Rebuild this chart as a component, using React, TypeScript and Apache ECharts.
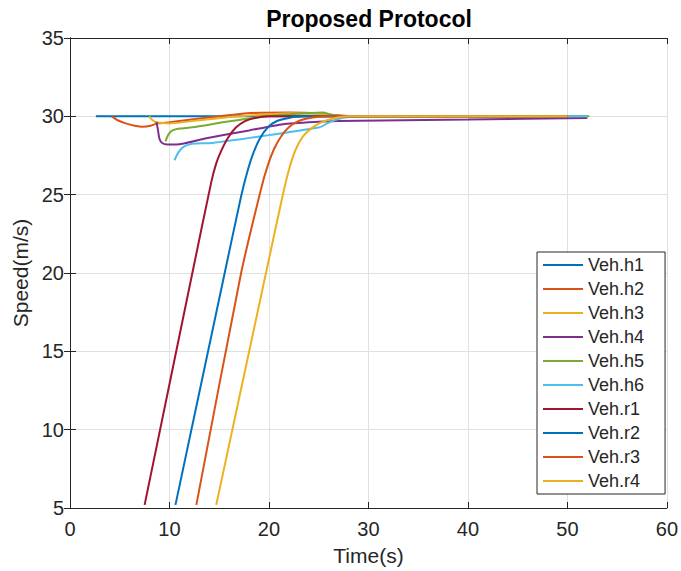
import React, { useEffect, useRef } from "react";
import * as echarts from "echarts";

const seriesNames = ["Veh.h1", "Veh.h2", "Veh.h3", "Veh.h4", "Veh.h5", "Veh.h6", "Veh.r1", "Veh.r2", "Veh.r3", "Veh.r4"];
const seriesColors = ["#0072BD", "#D95319", "#EDB120", "#7E2F8E", "#77AC30", "#4DBEEE", "#A2142F", "#0072BD", "#D95319", "#EDB120"];

const h1: number[][] = [[2.6, 30], [52, 30]];
const h2: number[][] = [[4.2, 30], [4.8, 29.75], [5.6, 29.55], [6.5, 29.4], [7.3, 29.33], [8.1, 29.4], [8.8, 29.55], [10, 29.62], [12, 29.78], [15, 30.0], [17.8, 30.2], [22, 30.25], [25, 30.2], [26.5, 30.08], [28, 30.02], [30, 30], [52, 30]];
const h3: number[][] = [[7.95, 30], [8.3, 29.75], [8.8, 29.6], [10, 29.55], [13, 29.75], [16, 29.95], [19, 30.1], [22, 30.2], [25, 30.15], [26.5, 30.06], [28, 30.02], [30, 30], [52, 30]];
const h4: number[][] = [[8.7, 29.65], [8.85, 29.1], [9.0, 28.55], [9.3, 28.28], [9.8, 28.2], [10.7, 28.2], [13.7, 28.6], [18, 29.1], [21.4, 29.5], [25, 29.65], [27, 29.7], [40, 29.8], [52, 29.9]];
const h5: number[][] = [[9.6, 28.4], [9.9, 28.85], [10.3, 29.1], [11, 29.22], [12.3, 29.3], [15.7, 29.65], [19, 29.95], [22.4, 30.15], [25.4, 30.25], [26.3, 30.1], [27.3, 30.02], [29, 30], [52.2, 30]];
const h6: number[][] = [[10.5, 27.2], [10.9, 27.7], [11.4, 28.05], [12.3, 28.25], [14.3, 28.3], [20, 28.8], [25.1, 29.3], [26, 29.6], [26.8, 29.8], [28, 29.95], [30, 30], [52, 30]];
const r1: number[][] = [[7.5, 5.2], [12.3, 20], [14.2, 25.8], [14.7, 27.0], [15.2, 27.8], [15.9, 28.65], [16.7, 29.3], [17.6, 29.7], [18.6, 29.9], [20, 30], [50, 30]];
const r2: number[][] = [[10.6, 5.2], [15.55, 20], [17.2, 24.9], [17.8, 26.4], [18.4, 27.6], [19.1, 28.6], [19.9, 29.3], [20.8, 29.7], [22, 29.9], [23.5, 30], [50, 30]];
const r3: number[][] = [[12.7, 5.2], [17.2, 20], [19.3, 25.6], [19.9, 26.9], [20.5, 27.9], [21.2, 28.7], [22, 29.3], [23, 29.7], [24.4, 29.92], [26, 30], [50, 30]];
const r4: number[][] = [[14.7, 5.2], [19.7, 20], [21.5, 25.3], [22.1, 26.8], [22.7, 27.9], [23.4, 28.7], [24.2, 29.2], [25.2, 29.6], [26.4, 29.85], [28, 30], [50, 30]];
const seriesData = [h1, h2, h3, h4, h5, h6, r1, r2, r3, r4];

const titleText = "Proposed Protocol";
const xName = "Time(s)";
const yName = "Speed(m/s)";
const xMin = 0, xMax = 60, xStep = 10;
const yMin = 5, yMax = 35, yStep = 5;

const FONT = "'Liberation Sans', Helvetica, Arial, sans-serif";
const INK = "#262626";

export default function App() {
  const ref = useRef<HTMLDivElement>(null);
  useEffect(() => {
    if (!ref.current) return;
    const chart = echarts.init(ref.current, undefined, { renderer: "svg" });
    const tickStyle = { show: true, inside: true, length: 6, lineStyle: { color: INK, width: 1 } };
    const lineStyleAxis = { show: true, lineStyle: { color: INK, width: 1 } };
    chart.setOption({
      animation: false,
      backgroundColor: "#fff",
      textStyle: { fontFamily: FONT },
      grid: { left: 70, right: 13, top: 38, bottom: 62, containLabel: false },
      graphic: [
        {
          type: "text",
          x: 369,
          y: 19,
          style: { text: titleText, fontFamily: FONT, fontSize: 23, fontWeight: "bold", fill: "#000", textAlign: "center", textVerticalAlign: "middle" },
        },
      ],
      xAxis: [
        {
          type: "value", min: xMin, max: xMax, interval: xStep, position: "bottom",
          name: xName, nameLocation: "middle", nameGap: 37,
          nameTextStyle: { fontSize: 21, color: INK, fontFamily: FONT },
          axisLine: lineStyleAxis, axisTick: tickStyle,
          axisLabel: { fontSize: 20, color: INK, margin: 11, fontFamily: FONT },
          splitLine: { show: true, lineStyle: { color: "#e0e0e0", width: 1 } },
        },
        {
          type: "value", min: xMin, max: xMax, interval: xStep, position: "top",
          axisLine: lineStyleAxis, axisTick: tickStyle, axisLabel: { show: false }, splitLine: { show: false },
        },
      ],
      yAxis: [
        {
          type: "value", min: yMin, max: yMax, interval: yStep, position: "left",
          name: yName, nameLocation: "middle", nameGap: 27,
          nameTextStyle: { fontSize: 21, color: INK, fontFamily: FONT },
          axisLine: lineStyleAxis, axisTick: tickStyle,
          axisLabel: { fontSize: 20, color: INK, margin: 6, fontFamily: FONT },
          splitLine: { show: true, lineStyle: { color: "#e0e0e0", width: 1 } },
        },
        {
          type: "value", min: yMin, max: yMax, interval: yStep, position: "right",
          axisLine: lineStyleAxis, axisTick: tickStyle, axisLabel: { show: false }, splitLine: { show: false },
        },
      ],
      legend: {
        orient: "vertical",
        left: 537,
        top: 252,
        padding: [4, 21, 4, 6],
        itemWidth: 40,
        itemHeight: 14,
        itemGap: 6,
        icon: "path://M0,0H40V2.2H0Z",
        backgroundColor: "#fff",
        borderColor: INK,
        borderWidth: 1,
        borderRadius: 0,
        textStyle: { fontSize: 18, color: INK, fontFamily: FONT },
        data: seriesNames,
      },
      series: seriesNames.map((name, i) => ({
        name,
        type: "line",
        data: seriesData[i],
        xAxisIndex: 0,
        yAxisIndex: 0,
        showSymbol: false,
        symbol: "none",
        smooth: 0.2,
        color: seriesColors[i],
        itemStyle: { color: seriesColors[i] },
        lineStyle: { width: 2, color: seriesColors[i] },
      })),
    });
    return () => chart.dispose();
  }, []);
  return <div ref={ref} style={{ width: 681, height: 571, position: "absolute", left: 0, top: 0 }} />;
}
